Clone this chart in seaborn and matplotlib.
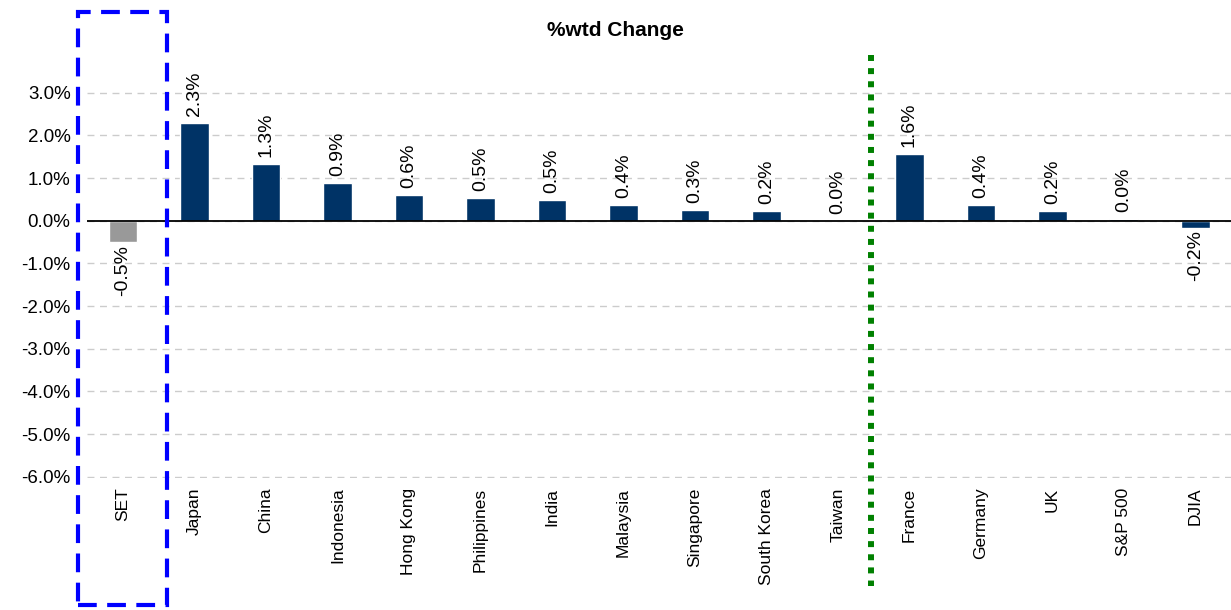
import matplotlib
matplotlib.use("Agg")
import matplotlib.pyplot as plt
import seaborn as sns
import pandas as pd
from matplotlib.patches import Rectangle

markets = ["SET", "Japan", "China", "Indonesia", "Hong Kong", "Philippines", "India",
           "Malaysia", "Singapore", "South Korea", "Taiwan", "France", "Germany", "UK",
           "S&P 500", "DJIA"]
wtd_change = [-0.51, 2.30, 1.34, 0.88, 0.60, 0.53, 0.49, 0.37, 0.26, 0.23, 0.00,
              1.57, 0.36, 0.23, 0.04, -0.16]
y_ticks = [-6, -5, -4, -3, -2, -1, 0, 1, 2, 3]

sns.set_style("white")
plt.rcParams["font.family"] = ["Liberation Sans", "DejaVu Sans"]
plt.rcParams["text.color"] = "black"
plt.rcParams["xtick.color"] = "black"
plt.rcParams["ytick.color"] = "black"

data = pd.DataFrame({"market": markets, "change": wtd_change})
bar_colors = ["#999999"] + ["#003366"] * (len(markets) - 1)

fig = plt.figure(figsize=(12.31, 6.10), dpi=100)
ax = fig.add_axes([0.0709, 0.2164, 0.9291, 0.7016])

sns.barplot(data=data, x="market", y="change", hue="market", palette=bar_colors,
            width=0.4, legend=False, saturation=1, ax=ax)

ax.set_ylim(-6.03, 4)
ax.set_xlim(-0.5, len(markets) - 0.5)
ax.set_yticks(y_ticks)
ax.set_yticklabels([f"{t:.1f}%" for t in y_ticks], fontsize=13.5)
ax.tick_params(axis="y", length=0, pad=12)
ax.tick_params(axis="x", length=0, pad=7)
ax.set_xticks(range(len(markets)))
ax.set_xticklabels(markets, rotation=90, fontsize=12.5)
ax.set_xlabel("")
ax.set_ylabel("")
for s in ax.spines.values():
    s.set_visible(False)

ax.yaxis.grid(True, color="#cccccc", linestyle=(0, (5, 4)), linewidth=1)
ax.set_axisbelow(True)
ax.axhline(0, color="black", linewidth=1.3, zorder=3)

# value labels
for i, v in enumerate(wtd_change):
    if v >= 0:
        ax.annotate(f"{v:.1f}%", (i, v), xytext=(0, 5), textcoords="offset points",
                    rotation=90, ha="center", va="bottom", fontsize=14)
    else:
        ax.annotate(f"{v:.1f}%", (i, v), xytext=(0, -2), textcoords="offset points",
                    rotation=90, ha="center", va="top", fontsize=14)

# highlight box around SET
ax.add_patch(Rectangle((-0.63, -9.0), 1.245, 13.88, fill=False, edgecolor="#0000ff",
                       linewidth=3, linestyle=(0, (4.5, 2.5)), clip_on=False, zorder=5))

# divider between Asia and West
ax.plot([10.47, 10.47], [3.88, -8.57], color="#008000", linewidth=4.3,
        linestyle=(0, (1, 1.2)), dash_capstyle="butt", clip_on=False, zorder=5)

fig.suptitle("%wtd Change", x=0.5, y=0.965, fontsize=15, fontweight="bold")

fig.savefig("out.png", dpi=100)
